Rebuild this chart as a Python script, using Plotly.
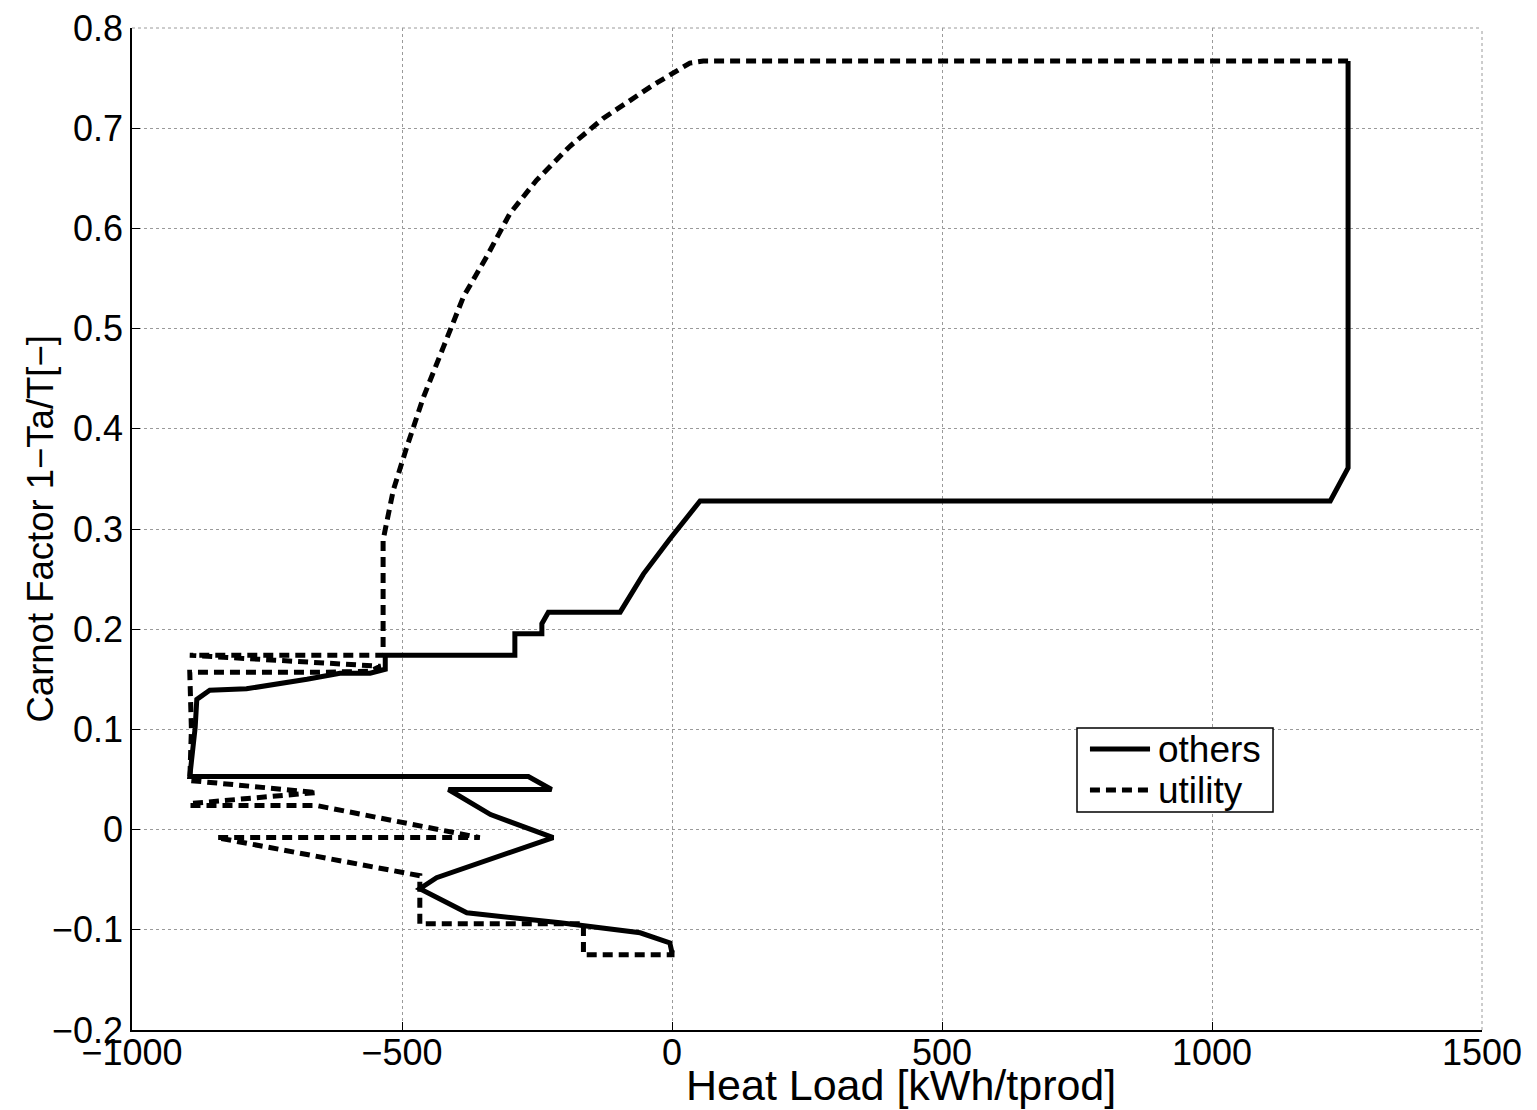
import plotly.graph_objects as go

# "others" composite curve (solid)
others_x = [1252, 1252, 1219, 52, -4, -53, -96, -229, -241, -241, -291, -291, -531, -531,
            -559, -615, -676, -788, -856, -880, -883, -893, -266, -223, -414, -343, -336,
            -220, -436, -467, -380, -207, -59, -4, 0]
others_y = [0.767, 0.361, 0.328, 0.328, 0.290, 0.255, 0.217, 0.217, 0.2055, 0.1955, 0.1955, 0.174, 0.174, 0.160,
            0.156, 0.156, 0.150, 0.1405, 0.139, 0.130, 0.102, 0.053, 0.053, 0.040, 0.040, 0.017, 0.015,
            -0.008, -0.048, -0.059, -0.083, -0.093, -0.103, -0.113, -0.123]

# "utility" composite curve (dashed)
utility_x = [1252, 58, 33, -35, -127, -189, -251, -300, -343, -386, -423, -460, -491, -516, -535,
             -535, -893, -540, -560, -652, -893, -890, -893, -658, -893, -893, -658, -356, -843,
             -467, -467, -164, -164, 0, 0]
utility_y = [0.767, 0.767, 0.765, 0.743, 0.710, 0.682, 0.648, 0.615, 0.572, 0.532, 0.482, 0.432, 0.382, 0.339, 0.289,
             0.174, 0.174, 0.163, 0.158, 0.157, 0.157, 0.100, 0.049, 0.037, 0.026, 0.024, 0.024, -0.008, -0.008,
             -0.046, -0.094, -0.094, -0.125, -0.125, -0.115]

series_names = ["others", "utility"]

x_ticks = [-1000, -500, 0, 500, 1000, 1500]
x_tick_labels = ["\u22121000", "\u2212500", "0", "500", "1000", "1500"]
y_ticks = [-0.2, -0.1, 0, 0.1, 0.2, 0.3, 0.4, 0.5, 0.6, 0.7, 0.8]
y_tick_labels = ["\u22120.2", "\u22120.1", "0", "0.1", "0.2", "0.3", "0.4", "0.5", "0.6", "0.7", "0.8"]

FONT = "Liberation Sans, Arial, Helvetica, sans-serif"
GRID = "#9a9a9a"
DASH = "10px,6px"

fig = go.Figure()
fig.add_trace(go.Scatter(x=others_x, y=others_y, mode="lines", name=series_names[0],
                         showlegend=False, line=dict(color="black", width=5)))
fig.add_trace(go.Scatter(x=utility_x, y=utility_y, mode="lines", name=series_names[1],
                         showlegend=False, line=dict(color="black", width=5, dash=DASH)))

# legend box drawn to match the reference's compact MATLAB-style legend
lg_x0, lg_x1, lg_y0, lg_y1 = 0.700, 0.8452, 0.2176, 0.3014
ln_x0, ln_x1 = 0.7096, 0.7541
row_y = [0.2804, 0.2395]
shapes = [
    dict(type="line", xref="paper", yref="paper", x0=0, x1=1, y0=1, y1=1,
         line=dict(color=GRID, width=1, dash="dot")),
    dict(type="line", xref="paper", yref="paper", x0=1, x1=1, y0=0, y1=1,
         line=dict(color=GRID, width=1, dash="dot")),
    dict(type="rect", xref="paper", yref="paper", x0=lg_x0, x1=lg_x1, y0=lg_y0, y1=lg_y1,
         line=dict(color="black", width=1.5), fillcolor="white", layer="above"),
    dict(type="line", xref="paper", yref="paper", x0=ln_x0, x1=ln_x1, y0=row_y[0], y1=row_y[0],
         line=dict(color="black", width=5), layer="above"),
    dict(type="line", xref="paper", yref="paper", x0=ln_x0, x1=ln_x1, y0=row_y[1], y1=row_y[1],
         line=dict(color="black", width=5, dash=DASH), layer="above"),
]
annotations = [
    dict(text="Heat Load [kWh/tprod]", x=(901 - 132) / 1350, xref="paper",
         y=-0.055, yref="paper", xanchor="center", yanchor="middle",
         showarrow=False, font=dict(size=43, family=FONT)),
    dict(text="Carnot Factor 1\u2212Ta/T[\u2212]", x=-0.0685, xref="paper",
         y=0.5, yref="paper", xanchor="center", yanchor="middle", textangle=-90,
         showarrow=False, font=dict(size=36.5, family=FONT)),
]
for name, ry in zip(series_names, row_y):
    annotations.append(dict(text=name, x=0.7585, xref="paper", y=ry, yref="paper",
                            xanchor="left", yanchor="middle", showarrow=False,
                            font=dict(size=37, family=FONT)))

fig.update_layout(
    width=1529, height=1102,
    margin=dict(l=124, r=55, t=20, b=80, autoexpand=False),
    paper_bgcolor="white", plot_bgcolor="white",
    font=dict(family=FONT, size=36, color="black"),
    showlegend=False,
    annotations=annotations,
    shapes=shapes,
)

fig.update_xaxes(range=[-1000, 1500.0001], tickvals=x_ticks, ticktext=x_tick_labels,
                 showgrid=True, gridcolor=GRID, griddash="dot", gridwidth=1,
                 zeroline=False, showline=True, linecolor="black", linewidth=1.5,
                 ticks="inside", ticklen=8, tickcolor="black", mirror=False,
                 ticklabelstandoff=-10, ticklabeloverflow="allow", automargin=False,
                 tickfont=dict(size=36, family=FONT))
fig.update_yaxes(range=[-0.2, 0.800001], tickvals=y_ticks, ticktext=y_tick_labels,
                 showgrid=True, gridcolor=GRID, griddash="dot", gridwidth=1,
                 zeroline=False, showline=True, linecolor="black", linewidth=1.5,
                 ticks="inside", ticklen=8, tickcolor="black", mirror=False,
                 ticklabeloverflow="allow", automargin=False,
                 tickfont=dict(size=36, family=FONT))

fig.write_html("out.html")
